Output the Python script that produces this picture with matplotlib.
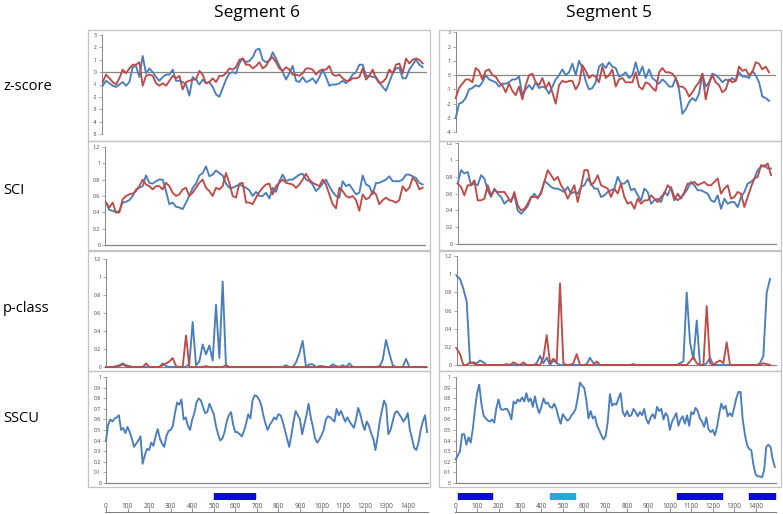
import numpy as np
import matplotlib
matplotlib.use("Agg")
import matplotlib.pyplot as plt
from matplotlib.patches import Rectangle

plt.rcParams['font.family'] = ['Open Sans', 'DejaVu Sans']

# ---------------------------------------
# Data
# ---------------------------------------

segments = ["Segment 6", "Segment 5"]
row_names = ["z-score", "SCI", "p-class", "SSCU"]

# z-score, one value per window
z6_blue = [-1.1, -0.7, -0.9, -1.1, -1.2, -1.0, -0.8, -1.1, -0.8, 0.4,
           0.5, -0.4, 1.3, -0.1, 0.3, 0.0, -0.4, -0.7, -0.4, -0.2,
           -0.2, 0.2, -0.7, -0.7, -0.8, -1.0, -1.9, -0.4, -0.6, -1.0,
           -0.6, -0.9, -0.8, -1.2, -1.8, -2.0, -1.3, -0.6, -0.1, 0.0,
           -0.1, 0.7, 1.1, 0.8, 0.9, 1.2, 1.8, 1.9, 1.0, 0.8,
           0.9, 1.6, 1.1, 0.5, 0.0, -0.6, -0.1, 0.5, -0.7, -0.8,
           -0.4, -0.8, -0.7, -0.5, -0.9, -0.4, 0.2, -0.4, -1.1, -1.0,
           -1.0, -0.9, -0.7, -0.9, -0.6, -0.2, 0.0, 0.6, 0.6, -0.3,
           -0.3, -0.4, -0.4, -0.8, -1.2, -1.5, -0.8, -0.1, 0.3, 0.35,
           -0.5, -0.5, 0.2, 0.6, 1.0, 0.6, 0.4]
z6_red = [-0.8, -0.2, -0.5, -0.8, -1.0, -0.5, 0.2, -0.1, 0.3, 0.6,
          0.6, 0.8, -1.1, -0.3, -0.2, -0.3, -0.9, -1.1, -0.9, -1.1,
          -0.7, -0.3, -0.5, -0.3, -1.4, -0.8, -0.7, -0.6, -0.6, 0.1,
          -0.2, -0.9, -0.8, -0.5, -0.8, -0.3, -0.3, -0.1, 0.3, 0.2,
          0.4, 1.0, 1.1, 0.6, 0.6, 0.3, 0.5, 0.8, 0.3, 0.5,
          1.0, 1.2, 0.8, 0.3, 0.1, 0.4, 0.2, -0.2, -0.2, -0.3,
          -0.1, 0.3, 0.3, 0.2, -0.2, 0.1, 0.2, 0.2, 0.5, -0.2,
          -0.3, -0.2, -0.5, -0.7, -0.7, -0.5, -0.5, -0.4, 0.3, -0.6,
          -0.3, 0.2, -0.5, -0.9, -0.8, -0.5, 0.2, -0.1, 0.6, 0.7,
          -0.1, 1.1, 0.7, 1.0, 1.1, 1.0, 0.7]
z5_blue = [-3.0, -2.0, -1.9, -1.6, -1.0, -0.9, -0.7, -0.8, -0.5, 0.0,
           -0.3, -0.4, -0.5, -0.8, -0.6, -0.6, -0.5, -0.3, -0.3, -0.1,
           -1.4, -1.0, -0.7, -1.0, -0.5, -0.9, -0.8, -0.9, -1.3, -0.8,
           -0.3, 0.0, 0.4, 0.0, 0.2, 0.8, 0.0, 1.0, 0.5, -0.4,
           -1.0, -0.9, -0.5, 0.6, 0.8, 0.5, 0.9, 0.6, 0.5, -0.1,
           0.0, 0.2, -0.2, 0.0, 0.9, 0.0, 0.6, -0.2, 0.4, -0.2,
           -0.4, -0.6, -0.3, -0.5, -0.8, -0.8, -0.2, -1.0, -2.7, -2.4,
           -1.9, -1.6, -1.8, -1.3, 0.1, -0.8, -0.5, 0.1, 0.0, -0.2,
           -0.5, -0.3, -0.4, -0.2, -0.4, 0.2, -0.1, -0.1, -0.2, 0.3,
           0.0, -0.5, -1.5, -1.6, -1.8]
z5_red = [-1.6, -0.9, -0.6, -0.3, -0.3, -0.5, 0.5, 0.3, -0.3, 0.3,
          0.4, 0.0, -0.1, -0.5, -0.7, -1.2, -0.6, -1.1, -1.4, -0.8,
          -1.7, -0.7, 0.0, 0.1, -0.5, -0.7, -0.2, -0.9, -0.5, -1.2,
          -2.0, -0.7, -0.4, -0.5, -0.4, -0.4, -1.0, -0.6, 0.7, 0.3,
          -0.2, 0.0, -0.1, -0.5, 0.6, -0.2, 0.0, 0.4, -0.8, -0.3,
          -0.2, -0.5, -0.5, -0.5, 0.2, -0.8, -1.0, -0.5, -0.6, -0.9,
          -1.1, 0.2, 0.5, 0.2, 0.2, 0.1, -0.2, -0.8, -0.8, -1.0,
          -1.5, -1.2, -0.8, -0.5, 0.1, -1.7, -0.6, 0.0, -0.5, -0.7,
          -1.2, -1.0, -0.3, -0.5, -0.4, 0.6, 0.3, 0.4, 0.0, 0.2,
          0.9, 0.8, 0.4, 0.6, 0.2]

# SCI
sci6_blue = [0.52, 0.43, 0.42, 0.40, 0.42, 0.52, 0.53, 0.55, 0.60, 0.68,
             0.70, 0.72, 0.85, 0.76, 0.75, 0.78, 0.80, 0.80, 0.66, 0.50,
             0.52, 0.47, 0.46, 0.44, 0.52, 0.60, 0.70, 0.75, 0.85, 0.88,
             0.96, 0.84, 0.86, 0.91, 0.88, 0.85, 0.75, 0.70, 0.70, 0.72,
             0.74, 0.72, 0.70, 0.67, 0.60, 0.65, 0.60, 0.60, 0.64, 0.57,
             0.70, 0.65, 0.78, 0.86, 0.78, 0.80, 0.80, 0.83, 0.86, 0.87,
             0.80, 0.78, 0.74, 0.66, 0.70, 0.75, 0.80, 0.72, 0.65, 0.60,
             0.58, 0.78, 0.72, 0.74, 0.68, 0.62, 0.64, 0.85, 0.74, 0.72,
             0.62, 0.76, 0.76, 0.78, 0.80, 0.84, 0.78, 0.78, 0.78, 0.80,
             0.86, 0.86, 0.84, 0.82, 0.76, 0.74]
sci6_red = [0.52, 0.46, 0.52, 0.40, 0.40, 0.56, 0.60, 0.62, 0.63, 0.66,
            0.72, 0.80, 0.74, 0.72, 0.68, 0.72, 0.72, 0.68, 0.76, 0.72,
            0.64, 0.60, 0.62, 0.68, 0.70, 0.60, 0.64, 0.70, 0.76, 0.80,
            0.70, 0.66, 0.60, 0.70, 0.68, 0.72, 0.88, 0.76, 0.60, 0.58,
            0.75, 0.76, 0.52, 0.52, 0.50, 0.58, 0.65, 0.70, 0.74, 0.75,
            0.62, 0.72, 0.76, 0.80, 0.76, 0.75, 0.74, 0.70, 0.74, 0.80,
            0.87, 0.80, 0.76, 0.74, 0.72, 0.80, 0.74, 0.62, 0.50, 0.45,
            0.70, 0.66, 0.60, 0.58, 0.60, 0.55, 0.42, 0.62, 0.56, 0.58,
            0.66, 0.62, 0.50, 0.55, 0.58, 0.55, 0.54, 0.52, 0.55, 0.72,
            0.66, 0.70, 0.82, 0.78, 0.68, 0.70]
sci5_blue = [0.72, 0.88, 0.84, 0.86, 0.70, 0.72, 0.70, 0.82, 0.78, 0.64,
             0.56, 0.66, 0.60, 0.56, 0.48, 0.52, 0.52, 0.58, 0.40, 0.36,
             0.40, 0.45, 0.55, 0.60, 0.54, 0.62, 0.75, 0.72, 0.68, 0.66,
             0.66, 0.64, 0.62, 0.68, 0.60, 0.62, 0.60, 0.68, 0.70, 0.78,
             0.72, 0.66, 0.66, 0.56, 0.58, 0.62, 0.64, 0.66, 0.80, 0.72,
             0.72, 0.76, 0.64, 0.66, 0.58, 0.52, 0.66, 0.62, 0.48, 0.52,
             0.54, 0.50, 0.62, 0.58, 0.68, 0.56, 0.52, 0.56, 0.60, 0.66,
             0.74, 0.70, 0.64, 0.64, 0.62, 0.60, 0.52, 0.50, 0.58, 0.42,
             0.54, 0.48, 0.50, 0.50, 0.44, 0.56, 0.62, 0.72, 0.74, 0.78,
             0.88, 0.92, 0.94, 0.90, 0.90]
sci5_red = [0.72, 0.68, 0.58, 0.70, 0.70, 0.76, 0.52, 0.52, 0.54, 0.70,
            0.58, 0.64, 0.62, 0.62, 0.62, 0.56, 0.50, 0.62, 0.46, 0.40,
            0.42, 0.48, 0.56, 0.56, 0.56, 0.60, 0.74, 0.88, 0.82, 0.76,
            0.80, 0.70, 0.64, 0.54, 0.62, 0.70, 0.50, 0.68, 0.88, 0.88,
            0.70, 0.74, 0.82, 0.70, 0.68, 0.66, 0.56, 0.66, 0.60, 0.72,
            0.56, 0.48, 0.50, 0.42, 0.54, 0.48, 0.52, 0.52, 0.58, 0.54,
            0.50, 0.56, 0.60, 0.70, 0.66, 0.52, 0.60, 0.54, 0.62, 0.72,
            0.72, 0.74, 0.70, 0.72, 0.74, 0.70, 0.70, 0.74, 0.78, 0.60,
            0.66, 0.70, 0.54, 0.56, 0.62, 0.60, 0.44, 0.56, 0.68, 0.78,
            0.80, 0.94, 0.92, 0.96, 0.82]

# p-class
p6_blue = [0, 0, 0, 0.01, 0.02, 0.04, 0.02, 0.01, 0, 0,
           0, 0, 0, 0, 0, 0, 0, 0.04, 0.01, 0,
           0, 0, 0, 0, 0, 0.04, 0.50, 0.02, 0.06, 0.25,
           0.14, 0.24, 0.07, 0.69, 0.10, 0.95, 0, 0, 0, 0,
           0, 0, 0, 0, 0, 0, 0, 0, 0, 0,
           0, 0, 0, 0, 0.02, 0, 0, 0.05, 0.15, 0.29,
           0, 0.03, 0.03, 0, 0.01, 0.01, 0, 0, 0.03, 0.01,
           0, 0.02, 0, 0.04, 0, 0, 0, 0, 0, 0,
           0, 0, 0, 0.08, 0.30, 0.15, 0.02, 0, 0, 0,
           0.09, 0, 0, 0, 0, 0, 0]
p6_red = [0, 0, 0, 0, 0.01, 0.03, 0.01, 0, 0, 0,
          0, 0, 0.04, 0, 0, 0, 0, 0.02, 0.04, 0.06,
          0.10, 0.01, 0, 0, 0.35, 0, 0, 0, 0, 0,
          0.01, 0, 0, 0, 0, 0, 0.02, 0, 0, 0,
          0, 0, 0, 0, 0, 0, 0, 0, 0, 0,
          0, 0, 0, 0, 0, 0, 0, 0, 0, 0,
          0, 0, 0, 0, 0, 0, 0, 0, 0, 0,
          0, 0, 0, 0, 0, 0, 0, 0, 0, 0,
          0, 0, 0.01, 0, 0, 0, 0, 0, 0, 0,
          0, 0, 0, 0, 0, 0, 0]
p5_blue = [0.98, 0.95, 0.84, 0.70, 0.02, 0.03, 0.02, 0.05, 0.03, 0,
           0, 0, 0, 0, 0, 0, 0, 0, 0, 0,
           0, 0, 0, 0, 0.02, 0.10, 0.02, 0.08, 0, 0.05,
           0.02, 0, 0, 0, 0, 0, 0, 0, 0, 0.01,
           0.08, 0.02, 0, 0, 0, 0, 0, 0, 0, 0,
           0, 0, 0, 0, 0, 0, 0, 0, 0, 0,
           0, 0, 0, 0, 0, 0, 0, 0.02, 0.04, 0.80,
           0.25, 0.06, 0.49, 0, 0, 0.02, 0.08, 0, 0, 0,
           0, 0, 0, 0, 0, 0, 0, 0, 0, 0,
           0, 0.02, 0.10, 0.80, 0.95]
p5_red = [0.18, 0.12, 0, 0, 0.03, 0.02, 0, 0, 0, 0,
          0, 0, 0, 0, 0, 0.01, 0, 0.03, 0.01, 0,
          0.03, 0, 0, 0, 0, 0, 0.08, 0.33, 0.02, 0.07,
          0.03, 0.90, 0.02, 0, 0, 0.02, 0.12, 0, 0, 0,
          0, 0, 0.04, 0, 0, 0, 0, 0, 0, 0,
          0, 0, 0, 0.01, 0, 0, 0, 0, 0, 0,
          0, 0, 0, 0, 0, 0, 0, 0, 0, 0,
          0.04, 0.09, 0.02, 0, 0, 0.65, 0.02, 0, 0.03, 0.05,
          0.02, 0.25, 0, 0, 0, 0, 0, 0, 0, 0,
          0, 0, 0.02, 0.01, 0]

# SSCU, every 10 nt from position 0
sscu_step = 10
sscu6 = [0.40, 0.55, 0.60, 0.58, 0.61, 0.62, 0.64, 0.50, 0.52, 0.47,
         0.53, 0.48, 0.42, 0.34, 0.37, 0.40, 0.44, 0.18, 0.26, 0.32,
         0.31, 0.38, 0.35, 0.44, 0.51, 0.42, 0.37, 0.34, 0.44, 0.49,
         0.50, 0.54, 0.66, 0.76, 0.74, 0.79, 0.60, 0.62, 0.54, 0.50,
         0.60, 0.66, 0.76, 0.80, 0.78, 0.72, 0.66, 0.67, 0.75, 0.70,
         0.65, 0.54, 0.46, 0.40, 0.42, 0.48, 0.58, 0.64, 0.67, 0.55,
         0.48, 0.48, 0.46, 0.44, 0.49, 0.56, 0.65, 0.61, 0.78, 0.83,
         0.82, 0.79, 0.74, 0.64, 0.56, 0.50, 0.55, 0.58, 0.62, 0.60,
         0.65, 0.64, 0.58, 0.50, 0.42, 0.34, 0.45, 0.58, 0.68, 0.64,
         0.60, 0.46, 0.55, 0.64, 0.75, 0.62, 0.53, 0.42, 0.38, 0.41,
         0.45, 0.50, 0.60, 0.63, 0.62, 0.60, 0.58, 0.70, 0.64, 0.68,
         0.63, 0.58, 0.62, 0.58, 0.55, 0.52, 0.60, 0.71, 0.65, 0.56,
         0.50, 0.58, 0.54, 0.47, 0.42, 0.31, 0.43, 0.58, 0.68, 0.78,
         0.73, 0.46, 0.50, 0.58, 0.66, 0.68, 0.65, 0.62, 0.58, 0.61,
         0.66, 0.50, 0.42, 0.33, 0.31, 0.38, 0.50, 0.58, 0.64, 0.48]
sscu5 = [0.22, 0.26, 0.30, 0.46, 0.46, 0.36, 0.43, 0.38, 0.51, 0.70,
         0.85, 0.93, 0.75, 0.64, 0.61, 0.59, 0.58, 0.60, 0.57, 0.71,
         0.79, 0.70, 0.69, 0.70, 0.70, 0.66, 0.60, 0.77, 0.75, 0.79,
         0.77, 0.81, 0.77, 0.85, 0.77, 0.80, 0.72, 0.82, 0.72, 0.66,
         0.72, 0.80, 0.75, 0.76, 0.72, 0.71, 0.75, 0.70, 0.62, 0.56,
         0.65, 0.62, 0.59, 0.60, 0.64, 0.66, 0.70, 0.81, 0.95, 0.92,
         0.90, 0.78, 0.61, 0.68, 0.61, 0.63, 0.54, 0.50, 0.45, 0.41,
         0.44, 0.58, 0.84, 0.73, 0.75, 0.74, 0.80, 0.85, 0.67, 0.63,
         0.68, 0.63, 0.64, 0.70, 0.67, 0.63, 0.67, 0.64, 0.70, 0.60,
         0.56, 0.62, 0.65, 0.61, 0.72, 0.68, 0.70, 0.60, 0.66, 0.63,
         0.50, 0.58, 0.62, 0.66, 0.54, 0.60, 0.63, 0.56, 0.64, 0.54,
         0.67, 0.65, 0.71, 0.68, 0.61, 0.58, 0.53, 0.62, 0.51, 0.48,
         0.50, 0.45, 0.53, 0.65, 0.75, 0.70, 0.73, 0.63, 0.66, 0.63,
         0.71, 0.80, 0.86, 0.86, 0.60, 0.46, 0.36, 0.32, 0.31, 0.17,
         0.08, 0.06, 0.06, 0.05, 0.12, 0.34, 0.36, 0.34, 0.22, 0.15]

# annotated regions under each segment (start, end) in nt
regions6 = [(500, 690)]
regions6_colors = ["blue"]
regions5 = [(9, 171), (440, 556), (1033, 1243), (1369, 1492)]
regions5_colors = ["blue", "cyan", "blue", "blue"]
ruler_ticks = list(range(0, 1401, 100))

# ---------------------------------------
# Styles
# ---------------------------------------
BLUE = "#4a7ebb"
RED = "#be4b48"
AXIS = "#868686"
FRAME = "#c3c3c3"
REGION_COLORS = {"blue": "#0a0ae0", "cyan": "#2aa8dc"}

W, H = 783, 514
fig = plt.figure(figsize=(W / 100, H / 100), dpi=100)


def add_px(x0, y0, x1, y1):
    # axes placed by pixel box (top-left origin)
    return fig.add_axes([x0 / W, 1 - y1 / H, (x1 - x0) / W, (y1 - y0) / H])


# grey frames around each chart
frame_cols = [(88, 430), (439, 781)]
frame_rows = [(30, 141), (141, 250), (251, 371), (371, 487)]
for fx0, fx1 in frame_cols:
    for fy0, fy1 in frame_rows:
        fig.add_artist(Rectangle((fx0 / W, 1 - fy1 / H), (fx1 - fx0) / W,
                                 (fy1 - fy0) / H, transform=fig.transFigure,
                                 fill=False, ec=FRAME, lw=0.9))


def panel(box, xlim, ylim, ticks, labels, series, zero_line=False, x=None):
    ax = add_px(*box)
    ax.patch.set_alpha(0)
    for s in ["top", "right"]:
        ax.spines[s].set_visible(False)
    ax.spines["left"].set_color(AXIS)
    ax.spines["left"].set_linewidth(0.7)
    if zero_line:
        ax.spines["bottom"].set_visible(False)
        ax.axhline(0, color=AXIS, lw=0.9, zorder=1)
    else:
        ax.spines["bottom"].set_color(AXIS)
        ax.spines["bottom"].set_linewidth(0.9)
    ax.set_xticks([])
    ax.set_yticks(ticks)
    ax.set_yticklabels(labels)
    ax.tick_params(axis="y", length=2, width=0.5, color=AXIS, labelsize=3.6,
                   labelcolor="#3a3a3a", pad=1.5)
    for y, c in series:
        xs = np.arange(len(y)) if x is None else x * np.arange(len(y))
        ax.plot(xs, y, color=c, lw=1.35, solid_joinstyle="round", clip_on=False, zorder=3)
    ax.set_xlim(*xlim)
    ax.set_ylim(*ylim)
    return ax


z_ticks6 = list(range(-5, 4))
z_ticks5 = list(range(-4, 4))
f_ticks = [0, 0.2, 0.4, 0.6, 0.8, 1.0, 1.2]
f_labels = ["0", "0.2", "0.4", "0.6", "0.8", "1", "1.2"]
s_ticks = [i / 10 for i in range(11)]
s_labels = ["0"] + [f"{t:.1f}" for t in s_ticks[1:-1]] + ["1"]

panel((101.7, 35, 427, 134), (-0.3, 97.3), (-5, 3), z_ticks6, [str(t) for t in z_ticks6],
      [(z6_blue, BLUE), (z6_red, RED)], zero_line=True)
panel((455.7, 32.3, 775.7, 132.3), (0, 96), (-4, 3), z_ticks5, [str(t) for t in z_ticks5],
      [(z5_blue, BLUE), (z5_red, RED)], zero_line=True)
panel((105, 146.7, 425, 245.3), (-0.3, 95.7), (0, 1.2), f_ticks, f_labels,
      [(sci6_blue, BLUE), (sci6_red, RED)])
panel((457.7, 143.3, 775.7, 244), (0, 95.4), (0, 1.2), f_ticks, f_labels,
      [(sci5_blue, BLUE), (sci5_red, RED)])
panel((106, 259, 426.7, 367), (0, 96.2), (0, 1.2), f_ticks, f_labels,
      [(p6_blue, BLUE), (p6_red, RED)])
panel((456.7, 256.2, 775.7, 365), (0, 95.7), (0, 1.2), f_ticks, f_labels,
      [(p5_blue, BLUE), (p5_red, RED)])
panel((106, 377.3, 428, 482.7), (0, 1494), (0, 1), s_ticks, s_labels,
      [(sscu6, BLUE)], x=sscu_step)
panel((455.7, 377.3, 775.7, 482.7), (0, 1494), (0, 1), s_ticks, s_labels,
      [(sscu5, BLUE)], x=sscu_step)

# region bars and nucleotide ruler
for (x0, x1), regs, cols in [((106, 428), regions6, regions6_colors),
                             ((455.7, 775.7), regions5, regions5_colors)]:
    bar_ax = add_px(x0, 492.5, x1, 499)
    bar_ax.axis("off")
    bar_ax.set_xlim(0, 1494)
    bar_ax.set_ylim(0, 1)
    for (a, b), c in zip(regs, cols):
        bar_ax.broken_barh([(a, b - a)], (0, 1), color=REGION_COLORS[c])

    rul = add_px(x0 - 1, 511.5, x1, 512.1)
    rul.patch.set_alpha(0)
    for s in ["top", "right", "left"]:
        rul.spines[s].set_visible(False)
    rul.spines["bottom"].set_color("#7a7a7a")
    rul.spines["bottom"].set_linewidth(0.7)
    rul.set_xlim(-1494 / (x1 - x0), 1494)
    rul.set_yticks([])
    rul.set_xticks(ruler_ticks)
    rul.set_xticklabels([str(t) for t in ruler_ticks])
    rul.tick_params(axis="x", direction="in", length=3, width=0.6, color="#7a7a7a",
                    bottom=True, top=False, labelbottom=False, labeltop=True,
                    labelsize=4.7, labelcolor="#505050", pad=1.2)

# titles and row labels
for name, cx in zip(segments, [257, 609]):
    fig.text(cx / W, 1 - 13 / H, name, ha="center", va="center", fontsize=12.5)
for name, cy in zip(row_names, [86, 190, 308, 418]):
    fig.text(3 / W, 1 - cy / H, name, ha="left", va="center", fontsize=10.5)

fig.savefig("out.png", dpi=100)
